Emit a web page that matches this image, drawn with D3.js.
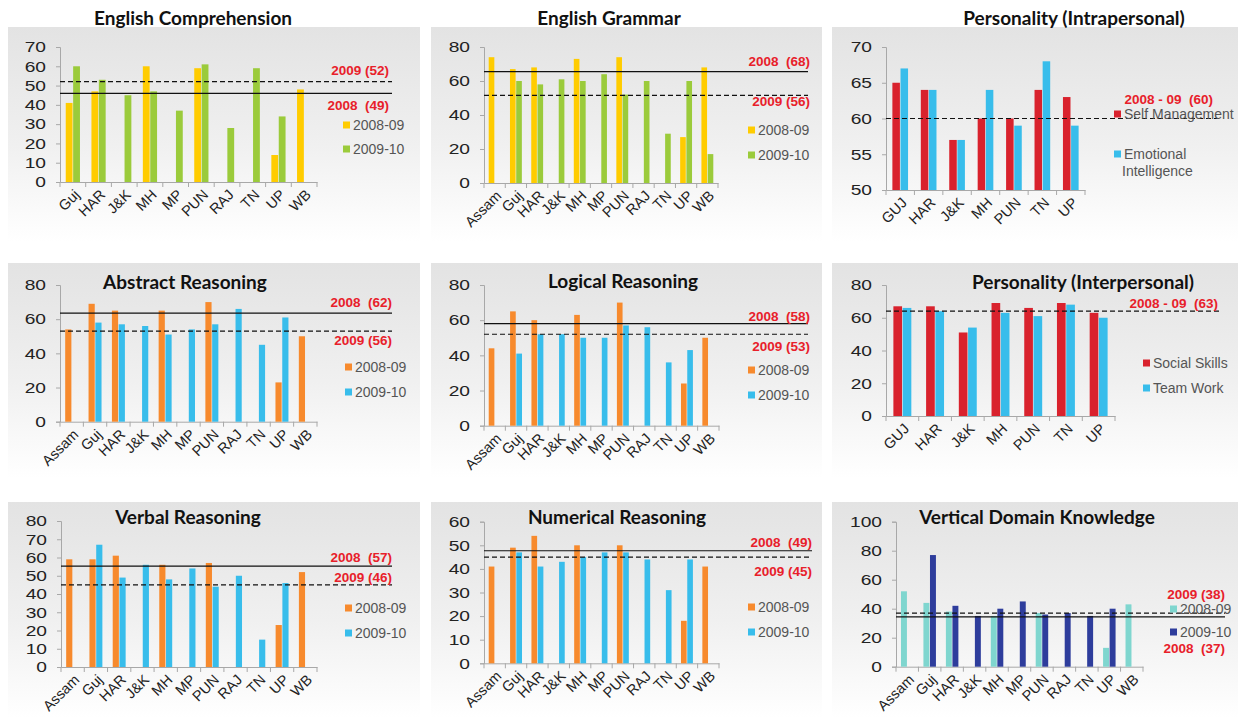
<!DOCTYPE html>
<html><head><meta charset="utf-8">
<script src="https://cdn.jsdelivr.net/npm/d3@7"></script>
<style>
html,body{margin:0;padding:0;background:#fff;}
svg{display:block;}
</style></head>
<body>
<svg id="chart" width="1240" height="718"></svg>
<script>
// ---------- DATA ----------
const catsA = ["Guj","HAR","J&K","MH","MP","PUN","RAJ","TN","UP","WB"];
const catsB = ["Assam","Guj","HAR","J&K","MH","MP","PUN","RAJ","TN","UP","WB"];
const catsP = ["GUJ","HAR","J&K","MH","PUN","TN","UP"];

const seriesYears = ["2008-09","2009-10"];
const seriesIntra = ["Self Management","Emotional Intelligence"];
const seriesInter = ["Social Skills","Team Work"];

const ecY1 = [41,47,null,60,null,59,null,null,14,48];
const ecY2 = [60,53,45,47,37,61,28,59,34,null];
const egY1 = [74,67,68,null,73,null,74,null,null,27,68];
const egY2 = [null,60,58,61,60,64,52,60,29,60,17];
const piSelf = [65,64,57,60,60,64,63];
const piEmo  = [67,64,57,64,59,68,59];
const arY1 = [54,69,65,null,65,null,70,null,null,23,50];
const arY2 = [null,58,57,56,51,54,57,66,45,61,null];
const lrY1 = [44,65,60,null,63,null,70,null,null,24,50];
const lrY2 = [null,41,52,52,50,50,57,56,36,43,null];
const psSocial = [67,67,51,69,66,69,63];
const psTeam   = [66,64,54,63,61,68,60];
const vrY1 = [59,59,61,null,56,null,57,null,null,23,52];
const vrY2 = [null,67,49,56,48,54,44,50,15,46,null];
const nrY1 = [41,49,54,null,50,null,50,null,null,18,41];
const nrY2 = [null,47,41,43,45,47,47,44,31,44,null];
const vdY1 = [52,44,38,null,35,null,37,null,null,13,43];
const vdY2 = [null,77,42,35,40,45,36,37,35,40,null];

const ticks70 = [0,10,20,30,40,50,60,70];
const ticks80by20 = [0,20,40,60,80];
const ticks80by10 = [0,10,20,30,40,50,60,70,80];
const ticks60 = [0,10,20,30,40,50,60];
const ticks100 = [0,20,40,60,80,100];
const ticksIntra = [50,55,60,65,70];

// reference lines: [value, dashed?]
const ecRefs = [[52,true],[46,false]];
const egRefs = [[65.5,false],[51.5,true]];
const piRefs = [[60,true]];
const arRefs = [[63.5,false],[53,true]];
const lrRefs = [[58,false],[52,true]];
const psRefs = [[64,true]];
const vrRefs = [[55.3,false],[45,true]];
const nrRefs = [[47.7,false],[45,true]];
const vdRefs = [[37,true],[34.3,false]];

const ecNotes = ["2009 (52)","2008  (49)"];
const egNotes = ["2008  (68)","2009 (56)"];
const piNotes = ["2008 - 09  (60)"];
const arNotes = ["2008  (62)","2009 (56)"];
const lrNotes = ["2008  (58)","2009 (53)"];
const psNotes = ["2008 - 09  (63)"];
const vrNotes = ["2008  (57)","2009 (46)"];
const nrNotes = ["2008  (49)","2009 (45)"];
const vdNotes = ["2009 (38)","2008  (37)"];

// ---------- STYLE ----------
const YELLOW="#ffcc00", GREEN="#9bcb3b", ORANGE="#f78a2d", BLUE="#38bdeb",
      RED="#d9222d", TEAL="#7fd6cf", NAVY="#2e3d9c", NOTE="#e8202a";

const panels = [
 {title:"English Comprehension", titleX:193, titleY:17, bg:[8,27,412,215],
  cats:catsA, series:[ecY1,ecY2], names:seriesYears, colors:[YELLOW,GREEN],
  domain:[0,70], ticks:ticks70, x0:60, x1:317, yTop:47, yBot:182, lineEnd:392,
  refs:ecRefs, notes:ecNotes, noteX:389, noteY:[70,105], legX:343, legY:[125,149]},
 {title:"English Grammar", titleX:609, titleY:17, bg:[431,27,391,215],
  cats:catsB, series:[egY1,egY2], names:seriesYears, colors:[YELLOW,GREEN],
  domain:[0,80], ticks:ticks80by20, x0:484, x1:718, yTop:47, yBot:183, lineEnd:808,
  refs:egRefs, notes:egNotes, noteX:810, noteY:[61,101], legX:748, legY:[130,155]},
 {title:"Personality (Intrapersonal)", titleX:1074, titleY:17, bg:[832,27,406,215],
  cats:catsP, series:[piSelf,piEmo], names:seriesIntra, colors:[RED,BLUE],
  domain:[50,70], ticks:ticksIntra, x0:886, x1:1085, yTop:47, yBot:190, lineEnd:1222,
  refs:piRefs, notes:piNotes, noteX:1213, noteY:[99], legX:1114, legY:[114,154], wrap:true},
 {title:"Abstract Reasoning", titleX:185, titleY:281, bg:[8,263,412,215],
  cats:catsB, series:[arY1,arY2], names:seriesYears, colors:[ORANGE,BLUE],
  domain:[0,80], ticks:ticks80by20, x0:60, x1:317, yTop:285, yBot:421.7, lineEnd:392,
  refs:arRefs, notes:arNotes, noteX:392, noteY:[302,340], legX:345, legY:[367,392]},
 {title:"Logical Reasoning", titleX:623, titleY:280, bg:[431,263,391,215],
  cats:catsB, series:[lrY1,lrY2], names:seriesYears, colors:[ORANGE,BLUE],
  domain:[0,80], ticks:ticks80by20, x0:484, x1:719, yTop:285, yBot:425.7, lineEnd:808,
  refs:lrRefs, notes:lrNotes, noteX:810, noteY:[316,346], legX:748, legY:[370,395]},
 {title:"Personality (Interpersonal)", titleX:1083, titleY:281, bg:[832,263,406,215],
  cats:catsP, series:[psSocial,psTeam], names:seriesInter, colors:[RED,BLUE],
  domain:[0,80], ticks:ticks80by20, x0:886, x1:1115, yTop:285, yBot:416, lineEnd:1220,
  refs:psRefs, notes:psNotes, noteX:1218, noteY:[303], legX:1143, legY:[363,388]},
 {title:"Verbal Reasoning", titleX:188, titleY:516, bg:[8,502,412,216],
  cats:catsB, series:[vrY1,vrY2], names:seriesYears, colors:[ORANGE,BLUE],
  domain:[0,80], ticks:ticks80by10, x0:61, x1:317, yTop:521, yBot:667, lineEnd:392,
  refs:vrRefs, notes:vrNotes, noteX:392, noteY:[557,577], legX:345, legY:[608,633]},
 {title:"Numerical Reasoning", titleX:617, titleY:516, bg:[431,502,391,216],
  cats:catsB, series:[nrY1,nrY2], names:seriesYears, colors:[ORANGE,BLUE],
  domain:[0,60], ticks:ticks60, x0:484, x1:719, yTop:521.7, yBot:663.3, lineEnd:812,
  refs:nrRefs, notes:nrNotes, noteX:812, noteY:[542,571], legX:748, legY:[607,632]},
 {title:"Vertical Domain Knowledge", titleX:1037, titleY:516, bg:[832,502,406,216],
  cats:catsB, series:[vdY1,vdY2], names:seriesYears, colors:[TEAL,NAVY],
  domain:[0,100], ticks:ticks100, x0:896, x1:1143, yTop:521.7, yBot:666.7, lineEnd:1225,
  refs:vdRefs, notes:vdNotes, noteX:1225, noteY:[594,648], legX:1170, legY:[609,632]}
];

const svg = d3.select("#chart");
const defs = svg.append("defs");
const grad = defs.append("linearGradient").attr("id","bgGrad").attr("x1",0).attr("y1",0).attr("x2",0).attr("y2",1);
grad.append("stop").attr("offset","0%").attr("stop-color","#e3e3e3");
grad.append("stop").attr("offset","55%").attr("stop-color","#f0f0f0");
grad.append("stop").attr("offset","100%").attr("stop-color","#ffffff");

const SX = 1.28; // horizontal stretch of axis numbers, as in the reference

panels.forEach(p => {
  const g = svg.append("g");
  g.append("rect").attr("x",p.bg[0]).attr("y",p.bg[1]).attr("width",p.bg[2]).attr("height",p.bg[3])
    .attr("fill","url(#bgGrad)");

  const x = d3.scaleBand().domain(p.cats).range([p.x0,p.x1]);
  const y = d3.scaleLinear().domain(p.domain).range([p.yBot,p.yTop]);
  const bw = x.bandwidth()*0.265;
  const gap = 0.6;

  // y axis
  const yAx = g.append("g").attr("transform",`translate(${p.x0},0)`)
    .call(d3.axisLeft(y).tickValues(p.ticks).tickSize(4).tickPadding(10).tickFormat(d3.format("d")));
  yAx.select(".domain").attr("stroke","#a8a8a8");
  yAx.selectAll(".tick line").attr("stroke","#a8a8a8");
  yAx.selectAll("text").attr("font-family","'Liberation Sans',Arial,sans-serif")
    .attr("font-size",15).attr("fill","#222")
    .attr("x",-14/SX).attr("transform",`scale(${SX},1)`);

  // x axis
  const xAx = g.append("g").attr("transform",`translate(0,${p.yBot})`)
    .call(d3.axisBottom(x).tickSize(0).tickFormat(""));
  xAx.select(".domain").attr("stroke","#a8a8a8");
  const bounds = d3.range(p.cats.length+1).map(i => p.x0 + i*x.step());
  g.selectAll(null).data(bounds).join("line")
    .attr("x1",d=>d).attr("x2",d=>d).attr("y1",p.yBot).attr("y2",p.yBot+5)
    .attr("stroke","#a8a8a8");
  g.selectAll(null).data(p.cats).join("text")
    .attr("transform",d=>`translate(${x(d)+x.bandwidth()/2+5},${p.yBot+11}) rotate(-45)`)
    .attr("text-anchor","end").attr("dominant-baseline","middle")
    .attr("font-family","'Liberation Sans',Arial,sans-serif").attr("font-size",14.5).attr("fill","#222")
    .text(d=>d);

  // bars
  p.series.forEach((s,si) => {
    g.selectAll(null).data(s.map((v,i)=>({v,c:p.cats[i]})).filter(d=>d.v!=null)).join("rect")
      .attr("x",d=> x(d.c)+x.bandwidth()/2 + (si===0 ? -bw-gap/2 : gap/2))
      .attr("width",bw)
      .attr("y",d=>y(d.v))
      .attr("height",d=>y(p.domain[0])-y(d.v))
      .attr("fill",p.colors[si]);
  });

  // reference lines
  p.refs.forEach(r => {
    g.append("line").attr("x1",p.x0).attr("x2",p.lineEnd).attr("y1",y(r[0])).attr("y2",y(r[0]))
      .attr("stroke","#111").attr("stroke-width",1.2)
      .attr("stroke-dasharray",r[1]?"5,3":null);
  });

  // title
  g.append("text").attr("x",p.titleX).attr("y",p.titleY).attr("text-anchor","middle")
    .attr("dominant-baseline","central")
    .attr("font-family","Lato,'Open Sans',sans-serif").attr("font-weight","bold")
    .attr("font-size",19).attr("fill","#111").text(p.title);

  // legend
  p.names.forEach((n,i) => {
    const ly = p.legY[i];
    g.append("rect").attr("x",p.legX).attr("y",ly-3.5).attr("width",7).attr("height",7).attr("fill",p.colors[i]);
    const t = g.append("text").attr("x",p.legX+10).attr("y",ly)
      .attr("dominant-baseline","central")
      .attr("font-family","'Liberation Sans',Arial,sans-serif").attr("font-size",14).attr("fill","#555");
    if (p.wrap && n.indexOf(" ")>0 && i===1) {
      const parts = n.split(" ");
      t.append("tspan").attr("x",p.legX+10).attr("dy",0).text(parts[0]);
      t.append("tspan").attr("x",p.legX+8).attr("dy",17).text(parts[1]);
    } else t.text(n);
  });

  // notes
  p.notes.forEach((n,i) => {
    g.append("text").attr("x",p.noteX).attr("y",p.noteY[i]).attr("text-anchor","end")
      .attr("dominant-baseline","central")
      .attr("font-family","'Liberation Sans',Arial,sans-serif").attr("font-weight","bold")
      .attr("font-size",13.5).attr("fill",NOTE).attr("xml:space","preserve")
      .style("white-space","pre").text(n);
  });
});
</script>
</body></html>
